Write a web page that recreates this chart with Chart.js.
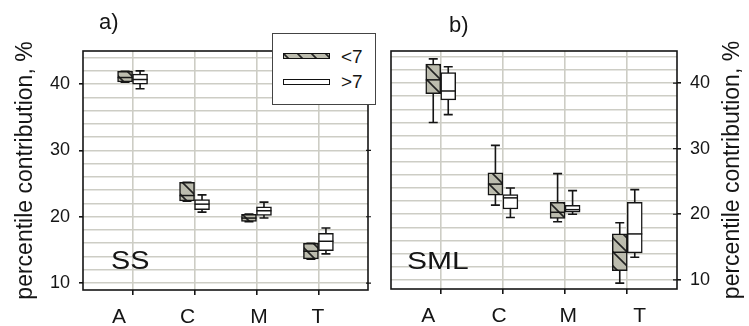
<!DOCTYPE html>
<html><head><meta charset="utf-8">
<script src="https://cdn.jsdelivr.net/npm/chart.js@4.4.1/dist/chart.umd.min.js"></script>
<style>
html,body{margin:0;padding:0;background:#fff;width:749px;height:326px;overflow:hidden;position:relative;font-family:"Liberation Sans",Arial,sans-serif}
canvas{position:absolute;top:0}
#ca{left:0}
#cb{left:375px}
.lbl{position:absolute;color:#151515;white-space:nowrap;line-height:1;transform-origin:0 0}
#legend{position:absolute;left:272px;top:33px;width:102px;height:70px;border:1.5px solid #444;background:#fff}
.sw{position:absolute;left:10px;width:45px;height:4px;border:1.2px solid #111}
</style></head><body>
<canvas id="ca" width="375" height="326"></canvas>
<canvas id="cb" width="374" height="326"></canvas>
<div class="lbl" style="left:99px;top:11px;font-size:22px">a)</div>
<div class="lbl" style="left:449px;top:14px;font-size:22px">b)</div>
<div class="lbl" style="left:111px;top:248px;font-size:25px;transform:scaleX(1.15)">SS</div>
<div class="lbl" style="left:407px;top:249px;font-size:24px;transform:scaleX(1.25)">SML</div>
<div id="legend">
  <div class="sw" id="swLow" style="top:19px"></div>
  <div class="lbl" style="left:68px;top:13px;font-size:19px">&lt;7</div>
  <div class="sw" style="top:45px;background:#fff"></div>
  <div class="lbl" style="left:68px;top:38px;font-size:19px">&gt;7</div>
</div>
<script>
// ---- data ----
const categories = ['A', 'C', 'M', 'T'];
const groupLabels = ['<7', '>7'];
const yAxisTitle = 'percentile contribution, %';
const yLabelTicks = [10, 20, 30, 40];
const yGridValues = [10,12,14,16,18,20,22,24,26,28,30,32,34,36,38,40,42,44];
// five-number summaries per category: [min, q1, median, q3, max]
const ssLow   = [[40.3,40.35,41.0,41.95,41.95],[22.35,22.4,23.2,25.2,25.2],[19.25,19.3,19.8,20.35,20.4],[13.6,13.65,14.8,16.0,16.0]];
const ssHigh  = [[39.3,40.0,40.7,41.5,42.0],[20.7,21.05,21.9,22.6,23.3],[19.8,20.2,20.9,21.5,22.2],[14.4,14.9,16.3,17.5,18.3]];
const smlLow  = [[34.0,38.4,40.5,42.9,43.7],[21.4,22.9,24.6,26.3,30.5],[18.85,19.35,20.3,21.8,26.2],[9.5,11.4,14.2,17.0,18.7]];
const smlHigh = [[35.2,37.45,38.8,41.6,42.5],[19.5,20.8,22.5,23.0,24.0],[20.0,20.3,20.7,21.35,23.6],[13.45,14.1,17.0,21.8,23.75]];

// layout: where the original figure printed its category labels (in category units)
const labelSpotsA = [-0.22, 0.89, 2.04, 2.99];
const labelSpotsB = [-0.20, 0.94, 2.05, 3.20];

const FONT = '"Liberation Sans", Arial, sans-serif';
const INK = '#151515';
const GRID = '#cdcdc5';

function makeHatch() {
  const c = document.createElement('canvas'); c.width = 14; c.height = 14;
  const g = c.getContext('2d');
  g.fillStyle = '#bcbcae'; g.fillRect(0, 0, 14, 14);
  g.strokeStyle = '#222'; g.lineWidth = 1.6;
  g.beginPath();
  g.moveTo(-3, -3); g.lineTo(17, 17);
  g.moveTo(-3, 11); g.lineTo(3, 17);
  g.moveTo(11, -3); g.lineTo(17, 3);
  g.stroke();
  return c;
}
const hatchTile = makeHatch();
document.getElementById('swLow').style.background = 'url(' + hatchTile.toDataURL() + ')';

const boxPlugin = {
  id: 'boxparts',
  beforeDatasetsDraw(chart) {
    const ctx = chart.ctx, y = chart.scales.y;
    chart.data.datasets.forEach((ds, di) => {
      chart.getDatasetMeta(di).data.forEach((bar, i) => {
        const s = ds.stats[i], x = bar.x, c = 4.5;
        ctx.save(); ctx.strokeStyle = INK; ctx.lineWidth = 1.6;
        ctx.beginPath();
        const yMin = y.getPixelForValue(s[0]), yMax = y.getPixelForValue(s[4]);
        ctx.moveTo(x, yMin); ctx.lineTo(x, yMax);
        ctx.moveTo(x - c, yMin); ctx.lineTo(x + c, yMin);
        ctx.moveTo(x - c, yMax); ctx.lineTo(x + c, yMax);
        ctx.stroke(); ctx.restore();
      });
    });
  },
  afterDatasetsDraw(chart) {
    const ctx = chart.ctx, y = chart.scales.y;
    chart.data.datasets.forEach((ds, di) => {
      chart.getDatasetMeta(di).data.forEach((bar, i) => {
        const s = ds.stats[i], yMed = y.getPixelForValue(s[2]);
        ctx.save(); ctx.strokeStyle = INK; ctx.lineWidth = 1.5;
        ctx.beginPath(); ctx.moveTo(bar.x - bar.width / 2, yMed); ctx.lineTo(bar.x + bar.width / 2, yMed);
        ctx.stroke(); ctx.restore();
      });
    });
  },
  afterDraw(chart, args, o) {
    const ctx = chart.ctx, a = chart.chartArea, y = chart.scales.y;
    ctx.save(); ctx.strokeStyle = INK; ctx.lineWidth = 1.6;
    ctx.strokeRect(a.left, a.top, a.right - a.left, a.bottom - a.top);
    ctx.lineWidth = 1.2; ctx.beginPath();
    yLabelTicks.forEach(v => { const p = y.getPixelForValue(v);
      if (o.oppositeTicks) { ctx.moveTo(a.right - 2, p); ctx.lineTo(a.right + 3, p); }
      if (o.rightTitle) { ctx.moveTo(a.right - 4, p); ctx.lineTo(a.right, p); }
    });
    ctx.stroke();
    if (o.rightTitle) {
      ctx.translate(o.rightTitleX, (a.top + a.bottom) / 2);
      ctx.rotate(-Math.PI / 2);
      ctx.font = '23px ' + FONT; ctx.fillStyle = INK;
      ctx.textAlign = 'center'; ctx.textBaseline = 'middle';
      ctx.fillText(yAxisTitle, 0, 0);
    }
    ctx.restore();
  }
};

function makeChart(id, low, high, cfg) {
  const ctx = document.getElementById(id).getContext('2d');
  const pattern = ctx.createPattern(hatchTile, 'repeat');
  const mk = (stats, label, fill) => ({
    label, stats,
    data: stats.map((s, i) => ({ x: i, y: [s[1], s[3]] })),
    backgroundColor: fill, borderColor: INK, borderWidth: 1.5, borderSkipped: false,
    barThickness: 15
  });
  return new Chart(ctx, {
    type: 'bar',
    data: { datasets: [mk(low, groupLabels[0], pattern), mk(high, groupLabels[1], '#ffffff')] },
    plugins: [boxPlugin],
    options: {
      responsive: false, animation: false,
      layout: { padding: cfg.padding },
      plugins: { legend: { display: false }, tooltip: { enabled: false },
        boxparts: { rightTitle: cfg.rightTitle, rightTitleX: cfg.rightTitleX, oppositeTicks: cfg.oppositeTicks } },
      scales: {
        x: {
          type: 'linear', min: -0.8, max: 3.8, offset: false,
          afterBuildTicks: s => { s.ticks = categories.map((c, i) => ({ value: i })); },
          afterFit: s => { s.height = 0; },
          grid: { offset: false, color: GRID, lineWidth: 1.6, tickLength: 5, tickColor: INK },
          border: { display: false },
          ticks: { display: false }
        },
        xl: {
          type: 'linear', position: 'bottom', min: -0.8, max: 3.8, offset: false,
          afterBuildTicks: s => { s.ticks = cfg.labelSpots.map(v => ({ value: v })); },
          afterFit: s => { s.height = cfg.xHeight; },
          grid: { display: false, drawTicks: false },
          border: { display: false },
          ticks: { callback: (v, i) => categories[i], font: { size: 21, family: FONT }, color: INK,
                   padding: 15, maxRotation: 0, autoSkip: false }
        },
        y: {
          position: cfg.yPos, min: cfg.yMin, max: cfg.yMax,
          afterBuildTicks: s => { s.ticks = yGridValues.map(v => ({ value: v })); },
          afterFit: s => { s.width = cfg.yWidth; },
          grid: { color: GRID, lineWidth: 1.6, tickLength: 4,
                  tickColor: c => (c.tick && yLabelTicks.includes(c.tick.value)) ? INK : 'rgba(0,0,0,0)' },
          border: { display: false },
          ticks: { callback: v => yLabelTicks.includes(v) ? String(v) : '', font: { size: 18, family: FONT },
                   color: INK, padding: 9, autoSkip: false },
          title: { display: !cfg.rightTitle, text: yAxisTitle, font: { size: 23, family: FONT }, color: INK,
                   padding: { top: 12, bottom: 0 } }
        }
      }
    }
  });
}

makeChart('ca', ssLow, ssHigh, { padding: { left: 0, top: 51, right: 7, bottom: 0 }, xHeight: 36,
  labelSpots: labelSpotsA, yPos: 'left', yWidth: 83, yMin: 8.95, yMax: 45, rightTitle: false, oppositeTicks: true });
makeChart('cb', smlLow, smlHigh, { padding: { left: 16, top: 51, right: 0, bottom: 0 }, xHeight: 37,
  labelSpots: labelSpotsB, yPos: 'right', yWidth: 72, yMin: 8.6, yMax: 44.9, rightTitle: true, rightTitleX: 358, oppositeTicks: false });
</script>
</body></html>
